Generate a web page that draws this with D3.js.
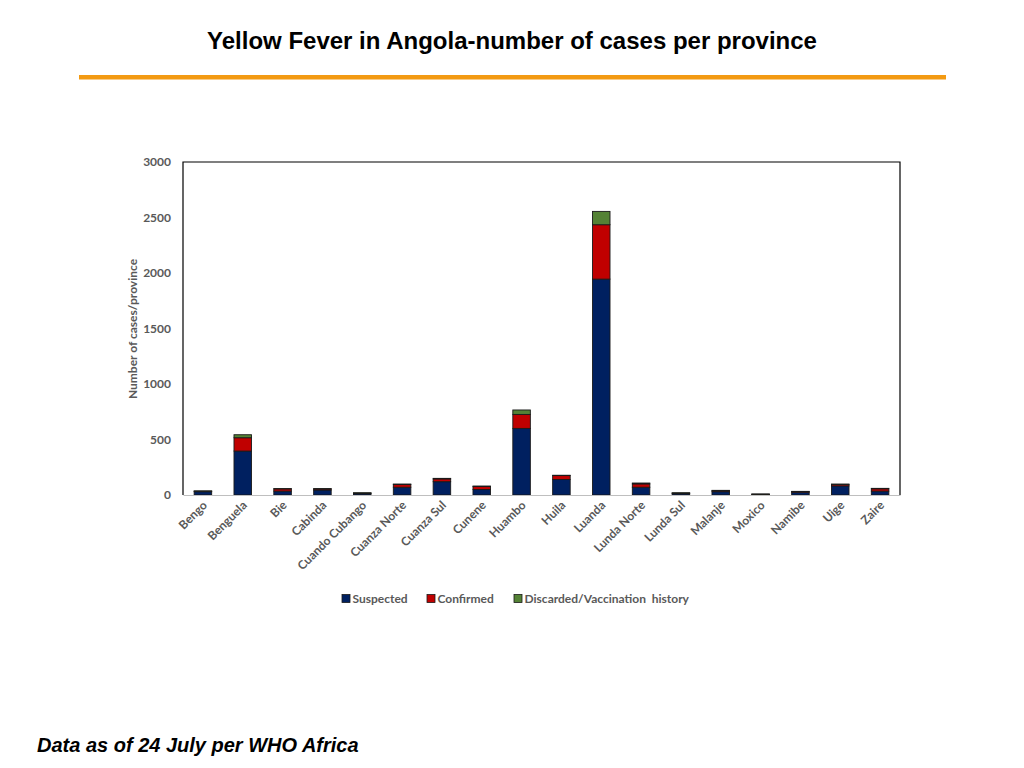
<!DOCTYPE html>
<html>
<head>
<meta charset="UTF-8">
<title>Yellow Fever in Angola</title>
<script src="https://cdn.jsdelivr.net/npm/d3@7"></script>
<style>
body { margin: 0; background: #fff; }
svg text { font-family: "Lato", "Open Sans", sans-serif; }
.title { font-family: "Liberation Sans", Arial, sans-serif !important; font-weight: bold; }
.note { font-family: "Liberation Sans", Arial, sans-serif !important; font-weight: bold; font-style: italic; }
.tick text { fill: #595959; font-weight: bold; font-size: 12px; }
</style>
</head>
<body>
<script>
// provinces on the x axis
var provinces = ["Bengo", "Benguela", "Bie", "Cabinda", "Cuando Cubango", "Cuanza Norte",
  "Cuanza Sul", "Cunene", "Huambo", "Huila", "Luanda", "Lunda Norte", "Lunda Sul",
  "Malanje", "Moxico", "Namibe", "Uige", "Zaire"];
// cases per province
var suspected = [30, 396, 35, 45, 12, 70, 120, 50, 600, 140, 1945, 70, 12, 30, 5, 25, 82, 35];
var confirmed = [5, 120, 20, 10, 6, 24, 25, 26, 126, 35, 490, 30, 6, 9, 3, 6, 13, 21];
var discarded = [2, 27, 3, 3, 2, 5, 5, 5, 40, 3, 120, 8, 2, 3, 1, 2, 4, 4];
var yTicks = [0, 500, 1000, 1500, 2000, 2500, 3000];
var seriesNames = ["Suspected", "Confirmed", "Discarded/Vaccination  history"];
var seriesColors = ["#002060", "#C00000", "#548235"];

var W = 1024, H = 768;
var svg = d3.select("body").append("svg").attr("width", W).attr("height", H);

// header
svg.append("text").attr("class", "title")
  .attr("x", 512).attr("y", 49).attr("text-anchor", "middle")
  .style("font-size", "24px")
  .text("Yellow Fever in Angola-number of cases per province");
svg.append("rect").attr("x", 79).attr("y", 75).attr("width", 867).attr("height", 4.5)
  .attr("fill", "#F39A12");

// plot area
var pLeft = 183, pRight = 900, pTop = 162, pBottom = 495;

var x = d3.scaleBand().domain(provinces).range([pLeft, pRight]).paddingInner(0.56).paddingOuter(0.28);
var y = d3.scaleLinear().domain([0, 3000]).range([pBottom, pTop]);

var rows = provinces.map(function(p, i) {
  return { province: p, s0: suspected[i], s1: confirmed[i], s2: discarded[i] };
});
var stack = d3.stack().keys(["s0", "s1", "s2"])(rows);

// frame (left, top, right)
svg.append("path")
  .attr("d", "M" + pLeft + "," + pBottom + "V" + pTop + "H" + pRight + "V" + pBottom)
  .attr("fill", "none").attr("stroke", "#000").attr("stroke-width", 1.2);

svg.selectAll("g.layer").data(stack).enter().append("g")
  .attr("class", "layer")
  .attr("fill", function(d, i) { return seriesColors[i]; })
  .selectAll("rect").data(function(d) { return d; }).enter().append("rect")
  .attr("x", function(d) { return x(d.data.province); })
  .attr("width", x.bandwidth())
  .attr("y", function(d) { return y(d[1]); })
  .attr("height", function(d) { return y(d[0]) - y(d[1]); })
  .attr("stroke", "#1a1a1a").attr("stroke-width", 0.9);

// y axis
var yAxis = svg.append("g").attr("transform", "translate(" + pLeft + ",0)")
  .call(d3.axisLeft(y).tickValues(yTicks).tickFormat(d3.format("d")).tickSize(0).tickPadding(12));
yAxis.select(".domain").remove();

// x axis
var xAxis = svg.append("g").attr("transform", "translate(0," + pBottom + ")")
  .call(d3.axisBottom(x).tickSize(0).tickPadding(0));
xAxis.select(".domain").attr("stroke", "#bfbfbf").attr("stroke-width", 1.2);
xAxis.selectAll(".tick text")
  .attr("text-anchor", "end")
  .attr("dy", "0")
  .attr("transform", "translate(5,11) rotate(-45)");

// y title
svg.append("text")
  .attr("transform", "translate(137,329) rotate(-90)")
  .attr("text-anchor", "middle")
  .style("font-size", "12px").style("font-weight", "bold").attr("fill", "#595959")
  .text("Number of cases/province");

// legend
var legendX = [342, 427, 514];
var leg = svg.selectAll("g.leg").data(seriesNames).enter().append("g")
  .attr("class", "leg")
  .attr("transform", function(d, i) { return "translate(" + legendX[i] + ",599)"; });
leg.append("rect").attr("x", 0).attr("y", -4.5).attr("width", 8).attr("height", 8)
  .attr("fill", function(d, i) { return seriesColors[i]; })
  .attr("stroke", "#1a1a1a").attr("stroke-width", 0.8);
leg.append("text").attr("x", 10.5).attr("y", 4)
  .style("font-size", "12px").style("font-weight", "bold").attr("fill", "#595959")
  .style("white-space", "pre")
  .text(function(d) { return d; });

// footnote
svg.append("text").attr("class", "note")
  .attr("x", 37).attr("y", 752)
  .style("font-size", "20px")
  .text("Data as of 24 July per WHO Africa");
</script>
</body>
</html>
